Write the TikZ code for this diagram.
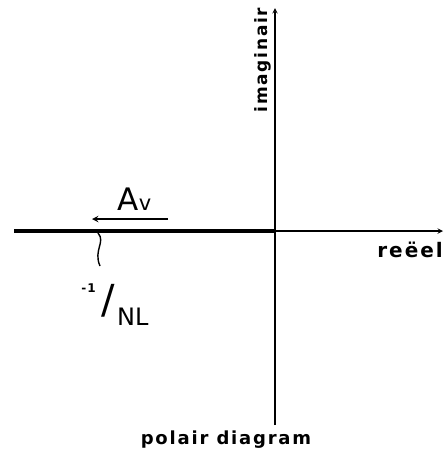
\documentclass[tikz,border=0pt]{standalone}
\usepackage{fontspec}
\setmainfont{DejaVu Sans}
\newfontfamily\handfont[LetterSpace=10]{DejaVu Sans Bold}
\newfontfamily\penfont{DejaVu Sans}
\usepackage{tikz}
\usetikzlibrary{positioning}

\begin{document}
\begin{tikzpicture}[x=1pt,y=-1pt,>=stealth, every node/.style={inner sep=0pt},
    lbl/.style={font=\handfont\fontsize{#1}{#1}\selectfont},
    big/.style={font=\penfont\fontsize{#1}{#1}\selectfont},
    axis/.style={->,line width=1.4pt},
    locus/.style={line width=3.6pt},
    dirarr/.style={->,line width=1.8pt}]
    \useasboundingbox (0,0) rectangle (445,451);
    \coordinate (o) at (275,231);
    \coordinate (west) at (14,231);
    \coordinate (east) at (443,231);
    \coordinate (north) at (275,8);
    \coordinate (south) at (275,425);
    \draw[locus] (west)--(o);
    \draw[axis] (o)--(east); \draw[axis] (south)--(north);
    \coordinate (avtail) at (168,219); \coordinate (avhead) at (92,219);
    \draw[dirarr] (avtail)--(avhead);
    \coordinate (cross) at (98,233); \coordinate (tag) at (100,266);
    \draw[line width=1.4pt] (cross) .. controls (106,242) and (93,250) .. (tag);
    \node[lbl=17,rotate=90] (imag) at (263,60) {imaginair};
    \node[lbl=20,anchor=south east] (reeel) at (443,258) {reëel};
    \node[big=31,anchor=base west] (avA) at (117,210) {A};
    \node[big=21,right=0pt of avA.base east,anchor=base west] (avv) {v};
    \node[big=40] (slash) at (108,301) {/};
    \node[lbl=12,anchor=base east] (nlnum) at (96,292) {-1};
    \node[big=24,anchor=base west] (nlden) at (117,325) {NL};
    \node[lbl=18,anchor=south] (polar) at (226,449) {polair diagram};
\end{tikzpicture}
\end{document}
